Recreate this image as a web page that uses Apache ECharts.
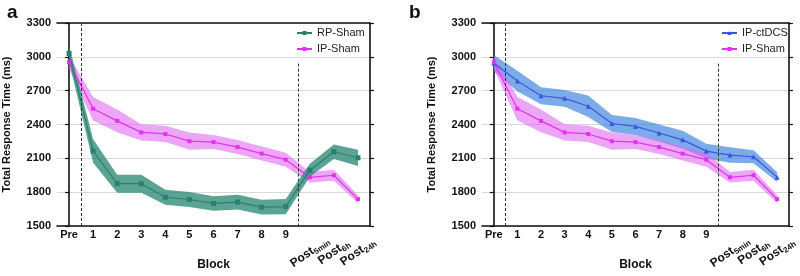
<!DOCTYPE html>
<html>
<head>
<meta charset="utf-8">
<script src="https://cdn.jsdelivr.net/npm/echarts@6/dist/echarts.min.js"></script>
<style>
  html, body { margin: 0; padding: 0; background: #fff; }
  #chart { width: 800px; height: 276px; }
</style>
</head>
<body>
<div id="chart"></div>
<script>
// categories (Pre, blocks 1-9, post sessions)
var categories = ['Pre', '1', '2', '3', '4', '5', '6', '7', '8', '9', 'Post5min', 'Post6h', 'Post24h']
var postSubs = { Post5min: '5min', Post6h: '6h', Post24h: '24h' }
var yTicks = [1500, 1800, 2100, 2400, 2700, 3000, 3300]

// mean total response time (ms) and band half-width
var rpSham = [3030, 2165, 1875, 1875, 1755, 1735, 1700, 1712, 1668, 1672, 1995, 2158, 2105]
var rpShamErr = [70, 105, 80, 80, 66, 66, 64, 65, 65, 67, 58, 65, 72]
var ipSham = [2952, 2540, 2432, 2330, 2316, 2252, 2244, 2200, 2142, 2088, 1932, 1950, 1738]
var ipShamErr = [58, 104, 100, 72, 72, 76, 62, 62, 62, 62, 46, 49, 35]
var ipCtdcs = [2945, 2785, 2655, 2632, 2562, 2409, 2383, 2325, 2264, 2164, 2129, 2114, 1933]
var ipCtdcsErr = [72, 92, 75, 75, 95, 76, 75, 75, 80, 65, 69, 58, 43]

// dashed separators (x in category units, y top)
var separators = [[0.5, 3300], [9.5, 2940]]

var FONT = 'Liberation Sans, Arial, Helvetica, sans-serif'

var chart = echarts.init(document.getElementById('chart'))

function bandSeries(name, vals, errs, lineColor, bandColor, symbol, symbolSize, g) {
    var stack = name + '_' + g
    return [
        {
            name: name + ' lo', type: 'line', xAxisIndex: g * 4, yAxisIndex: g * 2,
            stack: stack, symbol: 'none', silent: true, lineStyle: { opacity: 0 },
            data: vals.map(function (v, i) { return v - errs[i] })
        },
        {
            name: name + ' band', type: 'line', xAxisIndex: g * 4, yAxisIndex: g * 2,
            stack: stack, symbol: 'none', silent: true, lineStyle: { opacity: 0 },
            areaStyle: { color: bandColor, opacity: 1 },
            data: errs.map(function (e) { return 2 * e })
        },
        {
            name: name, type: 'line', xAxisIndex: g * 4, yAxisIndex: g * 2,
            symbol: symbol, symbolSize: symbolSize, z: 5,
            lineStyle: { color: lineColor, width: 1.2 },
            itemStyle: { color: lineColor },
            data: vals
        }
    ]
}

function xAxes(g) {
    return [
        {
            type: 'category', gridIndex: g, position: 'bottom', data: categories,
            name: 'Block', nameLocation: 'middle', nameGap: 33,
            nameTextStyle: { fontFamily: FONT, fontSize: 12, fontWeight: 'bold', color: '#111' },
            axisLine: { lineStyle: { color: '#111', width: 1.6 } },
            axisTick: { inside: true, alignWithLabel: true, length: 4, lineStyle: { color: '#111', width: 1.2 } },
            axisLabel: {
                interval: 0, margin: 3, fontFamily: FONT, fontSize: 11, fontWeight: 'bold', color: '#111',
                formatter: function (v) { return postSubs[v] ? '' : v }
            }
        },
        {
            type: 'category', gridIndex: g, position: 'bottom', data: categories,
            axisLine: { show: false }, axisTick: { show: false },
            axisLabel: {
                interval: 0, rotate: 35, align: 'center', verticalAlign: 'middle', margin: 26,
                fontFamily: FONT, color: '#111',
                formatter: function (v) { return postSubs[v] ? '{b|Post}{s|' + postSubs[v] + '}' : '' },
                rich: {
                    b: { fontFamily: FONT, fontSize: 12, fontWeight: 'bold', color: '#111', lineHeight: 14 },
                    s: { fontFamily: FONT, fontSize: 8, fontWeight: 'bold', color: '#111', padding: [7, 0, 0, 0] }
                }
            }
        },
        {
            type: 'category', gridIndex: g, position: 'top', data: categories,
            axisLine: { lineStyle: { color: '#111', width: 1.6 } },
            axisTick: { inside: true, alignWithLabel: true, length: 4, lineStyle: { color: '#111', width: 1.2 } },
            axisLabel: { show: false }
        },
        { type: 'value', gridIndex: g, show: false, min: -0.5, max: 12.5 }
    ]
}

function yAxes(g) {
    return [
        {
            type: 'value', gridIndex: g, position: 'left', min: yTicks[0], max: yTicks[yTicks.length - 1], interval: 300,
            name: 'Total Response Time (ms)', nameLocation: 'middle', nameGap: 45,
            nameTextStyle: { fontFamily: FONT, fontSize: 11, fontWeight: 'bold', color: '#111' },
            axisLine: { show: true, lineStyle: { color: '#111', width: 1.6 } },
            axisTick: { show: true, length: 4, lineStyle: { color: '#111', width: 1.2 } },
            axisLabel: {
                margin: 6, fontFamily: FONT, fontSize: 11, fontWeight: 'bold', color: '#111',
                formatter: function (v) { return String(v) }
            },
            splitLine: { show: true, lineStyle: { color: '#d9d9d9', width: 1 } }
        },
        {
            type: 'value', gridIndex: g, position: 'right', min: yTicks[0], max: yTicks[yTicks.length - 1], interval: 300,
            axisLine: { show: true, lineStyle: { color: '#111', width: 1.6 } },
            axisTick: { show: true, length: 4, lineStyle: { color: '#111', width: 1.2 } },
            axisLabel: { show: false },
            splitLine: { show: false }
        }
    ]
}

function sepSeries(g) {
    return {
        name: 'sep' + g, type: 'line', xAxisIndex: g * 4 + 3, yAxisIndex: g * 2, data: [], silent: true,
        markLine: {
            symbol: 'none', silent: true, z: 10, label: { show: false },
            lineStyle: { color: '#333', type: [3, 2], width: 1 },
            data: separators.map(function (s) {
                return [{ coord: [s[0], s[1]] }, { coord: [s[0], yTicks[0]] }]
            })
        }
    }
}

var teal = '#2b7f70', tealBand = 'rgba(45,138,118,0.78)'
var mag = '#e231f0', magBand = 'rgba(222,100,242,0.58)'
var blue = '#3a55df', blueBand = 'rgba(60,132,222,0.68)'

var legendCommon = {
    orient: 'vertical', top: 22, itemWidth: 15, itemHeight: 5, itemGap: 4,
    textStyle: { fontFamily: FONT, fontSize: 11, color: '#222', lineHeight: 12 }
}

chart.setOption({
    animation: false,
    title: [
        { text: 'a', left: 2, top: -2, textStyle: { fontFamily: FONT, fontSize: 19, fontWeight: 'bold', color: '#111' } },
        { text: 'b', left: 404, top: -2, textStyle: { fontFamily: FONT, fontSize: 19, fontWeight: 'bold', color: '#111' } }
    ],
    legend: [
        Object.assign({ left: 291, data: ['RP-Sham', 'IP-Sham'] }, legendCommon),
        Object.assign({ left: 716, data: ['IP-ctDCS', 'IP-Sham'] }, legendCommon)
    ],
    grid: [
        { left: 57, right: 430, top: 23, bottom: 45 },
        { left: 482, right: 6, top: 23, bottom: 45 }
    ],
    xAxis: xAxes(0).concat(xAxes(1)),
    yAxis: yAxes(0).concat(yAxes(1)),
    series: []
        .concat(bandSeries('IP-Sham', ipSham, ipShamErr, mag, magBand, 'rect', 4, 0))
        .concat(bandSeries('RP-Sham', rpSham, rpShamErr, teal, tealBand, 'rect', 5, 0))
        .concat(bandSeries('IP-ctDCS', ipCtdcs, ipCtdcsErr, blue, blueBand, 'triangle', 5, 1))
        .concat(bandSeries('IP-Sham', ipSham, ipShamErr, mag, magBand, 'rect', 4, 1))
        .concat([sepSeries(0), sepSeries(1)])
})
</script>
</body>
</html>
